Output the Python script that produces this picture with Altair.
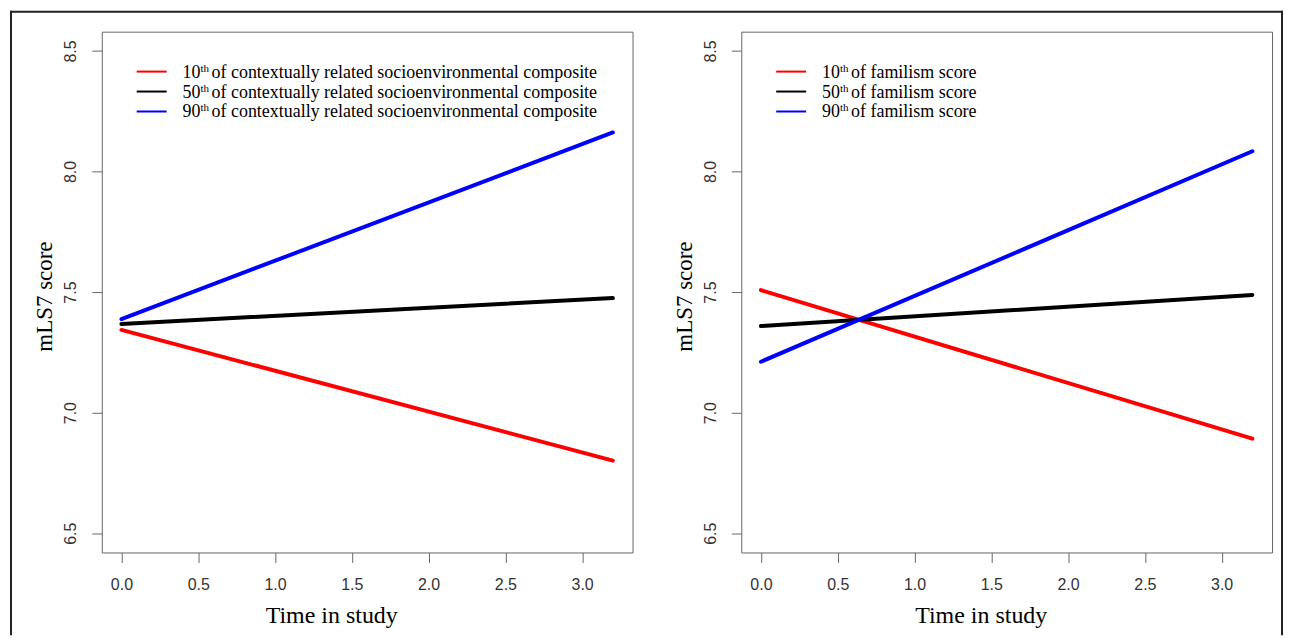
import altair as alt
import pandas as pd

# ---- data ----
times = [0.0, 3.2]
left_red = [7.343, 6.801]
left_black = [7.368, 7.475]
left_blue = [7.388, 8.162]
right_red = [7.508, 6.892]
right_black = [7.359, 7.488]
right_blue = [7.211, 8.084]

series_names = ["p10", "p50", "p90"]
pct_labels = ["10", "50", "90"]
left_label_rest = "of contextually related socioenvironmental composite"
right_label_rest = "of familism score"
series_colors = ["#ff0000", "#000000", "#0000ff"]

x_ticks = [0.0, 0.5, 1.0, 1.5, 2.0, 2.5, 3.0]
y_ticks = [6.5, 7.0, 7.5, 8.0, 8.5]
x_domain = [-0.128, 3.328]
y_domain = [6.42, 8.58]

x_title = "Time in study"
y_title = "mLS7 score"

PW, PH = 532, 522
SERIF = "Liberation Serif"
SANS = "Liberation Sans"


def panel_df(red, black, blue):
    rows = []
    for name, vals in zip(series_names, [red, black, blue]):
        for t, v in zip(times, vals):
            rows.append({"time": t, "score": v, "series": name})
    return pd.DataFrame(rows)


def make_panel(red, black, blue, rest_label, title_x, frame=False):
    df = panel_df(red, black, blue)
    lines = alt.Chart(df).mark_line(strokeWidth=4, strokeCap="round").encode(
        x=alt.X("time:Q",
                scale=alt.Scale(domain=x_domain, nice=False, zero=False),
                axis=alt.Axis(values=x_ticks, format=".1f", title=x_title,
                              grid=False, domain=False, tickSize=10,
                              tickColor="#666", labelFont=SANS, labelFontSize=16,
                              labelColor="#333", labelPadding=14, labelFlush=False,
                              titleFont=SERIF, titleFontSize=24,
                              titleFontWeight="normal", titleColor="#000",
                              titleX=title_x, titleY=70, titleAlign="center",
                              titleBaseline="alphabetic")),
        y=alt.Y("score:Q",
                scale=alt.Scale(domain=y_domain, nice=False, zero=False),
                axis=alt.Axis(values=y_ticks, format=".1f", title=y_title,
                              grid=False, domain=False, tickSize=10,
                              tickColor="#666", labelFont=SANS, labelFontSize=16,
                              labelColor="#333", labelAngle=-90,
                              labelAlign="center", labelBaseline="alphabetic",
                              labelPadding=16, labelFlush=False,
                              titleFont=SERIF, titleFontSize=23,
                              titleFontWeight="normal", titleColor="#000",
                              titleAngle=270, titleX=-50, titleY=265,
                              titleAlign="center", titleBaseline="alphabetic")),
        color=alt.Color("series:N",
                        scale=alt.Scale(domain=series_names, range=series_colors),
                        legend=None),
        detail="series:N",
    )
    layers = [lines]
    one = pd.DataFrame({"k": [0]})
    for i, (num, col) in enumerate(zip(pct_labels, series_colors)):
        yy = 40 + 20 * i
        layers.append(alt.Chart(one).mark_rule(color=col, strokeWidth=2).encode(
            x=alt.value(35), x2=alt.value(65), y=alt.value(yy)))
        layers.append(alt.Chart(pd.DataFrame({"t": [num]})).mark_text(
            font=SERIF, fontSize=18, align="left", baseline="middle", color="#000"
        ).encode(x=alt.value(81), y=alt.value(yy + 1), text="t:N"))
        layers.append(alt.Chart(pd.DataFrame({"t": ["th"]})).mark_text(
            font=SERIF, fontSize=11, align="left", baseline="middle", color="#000"
        ).encode(x=alt.value(99), y=alt.value(yy - 3), text="t:N"))
        layers.append(alt.Chart(pd.DataFrame({"t": [rest_label]})).mark_text(
            font=SERIF, fontSize=18, align="left", baseline="middle", color="#000"
        ).encode(x=alt.value(110), y=alt.value(yy + 1), text="t:N"))
    if frame:
        fc = "#222"
        layers.append(alt.Chart(one).mark_rule(color=fc, strokeWidth=2).encode(
            x=alt.value(-92), x2=alt.value(1184), y=alt.value(-20)))
        layers.append(alt.Chart(one).mark_rule(color=fc, strokeWidth=2).encode(
            x=alt.value(-91), y=alt.value(-21), y2=alt.value(605)))
        layers.append(alt.Chart(one).mark_rule(color=fc, strokeWidth=2).encode(
            x=alt.value(1183), y=alt.value(-21), y2=alt.value(605)))
    return alt.layer(*layers).properties(width=PW, height=PH)


left = make_panel(left_red, left_black, left_blue, left_label_rest, 230, frame=True)
right = make_panel(right_red, right_black, right_blue, right_label_rest, 240)

chart = alt.hconcat(left, right, spacing=109, bounds="flush").properties(
    padding={"left": 0, "top": 0, "right": 0, "bottom": 0},
    background="white",
).configure_view(stroke="#666", strokeWidth=1)

chart.save("out.html", embed_options={"renderer": "svg", "actions": False})
